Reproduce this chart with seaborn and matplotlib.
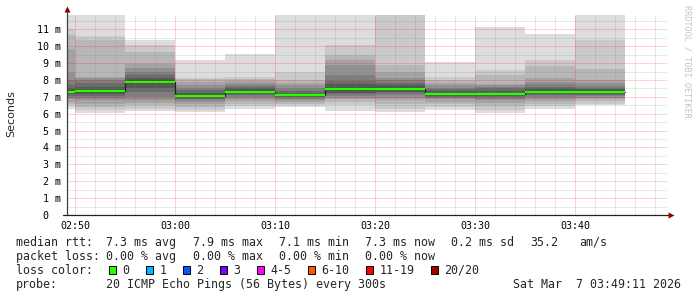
import numpy as np
import pandas as pd
import seaborn as sns
import matplotlib
matplotlib.use("Agg")
import matplotlib.pyplot as plt
from matplotlib.patches import Rectangle
from matplotlib.ticker import MultipleLocator, FixedLocator

# ---------------- data ----------------
# 5-minute intervals (end time, minutes after midnight), 20 pings each (ms, sorted)
interval_end_label = ["02:50", "02:55", "03:00", "03:05", "03:10", "03:15",
                      "03:20", "03:25", "03:30", "03:35", "03:40", "03:45"]
median_ms = [7.30, 7.35, 7.88, 7.07, 7.30, 7.10, 7.48, 7.48, 7.17, 7.17, 7.30, 7.30]

pings_0250 = [6.30, 6.45, 6.60, 6.70, 6.85, 6.95, 7.05, 7.15, 7.20, 7.28,
              7.32, 7.40, 7.50, 7.70, 8.00, 8.48, 9.86, 10.65, 11.00, 12.50]
pings_0255 = [6.05, 6.20, 6.40, 6.60, 6.80, 6.95, 7.05, 7.15, 7.25, 7.32,
              7.38, 7.45, 7.60, 7.80, 8.00, 8.10, 8.15, 10.36, 10.60, 12.50]
pings_0300 = [6.15, 6.30, 6.50, 6.65, 6.80, 7.00, 7.30, 7.55, 7.75, 7.87,
              7.93, 8.00, 8.10, 8.30, 8.50, 8.70, 8.93, 9.66, 10.06, 10.36]
pings_0305 = [6.10, 6.25, 6.40, 6.55, 6.70, 6.80, 6.88, 6.95, 7.00, 7.04,
              7.09, 7.15, 7.25, 7.40, 7.55, 7.70, 7.90, 8.05, 8.12, 9.17]
pings_0310 = [6.30, 6.45, 6.60, 6.75, 6.90, 7.00, 7.10, 7.18, 7.24, 7.28,
              7.32, 7.40, 7.50, 7.60, 7.70, 7.80, 7.93, 8.05, 8.18, 9.53]
pings_0315 = [6.41, 6.50, 6.60, 6.70, 6.80, 6.90, 6.97, 7.02, 7.06, 7.09,
              7.12, 7.18, 7.25, 7.35, 7.50, 7.70, 7.85, 7.99, 8.48, 12.50]
pings_0320 = [6.15, 6.50, 6.70, 6.85, 6.95, 7.05, 7.15, 7.25, 7.35, 7.45,
              7.50, 7.60, 7.75, 7.93, 8.30, 8.88, 9.20, 9.47, 10.06, 12.50]
pings_0325 = [6.11, 6.30, 6.60, 6.80, 6.95, 7.10, 7.20, 7.30, 7.40, 7.46,
              7.50, 7.60, 7.70, 7.85, 8.00, 8.09, 8.50, 8.88, 12.30, 12.50]
pings_0330 = [6.21, 6.40, 6.55, 6.70, 6.85, 6.95, 7.02, 7.08, 7.12, 7.15,
              7.18, 7.25, 7.35, 7.45, 7.55, 7.70, 7.85, 8.00, 8.20, 9.04]
pings_0335 = [6.02, 6.20, 6.45, 6.65, 6.80, 6.90, 7.00, 7.06, 7.11, 7.15,
              7.18, 7.25, 7.35, 7.50, 7.60, 7.70, 7.79, 8.28, 8.58, 11.15]
pings_0340 = [6.31, 6.45, 6.60, 6.75, 6.90, 7.00, 7.10, 7.18, 7.24, 7.28,
              7.32, 7.40, 7.50, 7.60, 7.75, 7.90, 8.10, 8.80, 9.21, 10.71]
pings_0345 = [6.50, 6.60, 6.75, 6.85, 6.95, 7.05, 7.12, 7.18, 7.23, 7.28,
              7.32, 7.38, 7.45, 7.55, 7.65, 7.80, 8.00, 8.68, 10.36, 12.50]

x_tick_labels = ["02:50", "03:00", "03:10", "03:20", "03:30", "03:40"]
y_tick_values = [0, 1, 2, 3, 4, 5, 6, 7, 8, 9, 10, 11]

stats_line1 = ["median rtt:", "7.3 ms avg", "7.9 ms max", "7.1 ms min",
               "7.3 ms now", "0.2 ms sd", "35.2", "am/s"]
stats_line2 = ["packet loss:", "0.00 % avg", "0.00 % max", "0.00 % min", "0.00 % now"]
loss_labels = ["0", "1", "2", "3", "4-5", "6-10", "11-19", "20/20"]
loss_colors = ["#26ff00", "#00b8ff", "#0059ff", "#7e00ff", "#ff00ff",
               "#ff5500", "#ff0000", "#a10000"]
probe_text = "20 ICMP Echo Pings (56 Bytes) every 300s"
stamp_text = "Sat Mar  7 03:49:11 2026"

# ---------------- helpers ----------------
def to_min(s):
    h, m = s.split(":")
    return int(h) * 60 + int(m)

all_pings = np.array([pings_0250, pings_0255, pings_0300, pings_0305, pings_0310,
                      pings_0315, pings_0320, pings_0325, pings_0330, pings_0335,
                      pings_0340, pings_0345])
all_pings.sort(axis=1)
ends = np.array([to_min(s) for s in interval_end_label], dtype=float)
starts = ends - 5.0

W, H, DPI = 697, 297, 100
fig = plt.figure(figsize=(W / DPI, H / DPI), dpi=DPI)
sns.set_style("white")
plt.rcParams["font.family"] = ["DejaVu Sans Mono", "DejaVu Sans"]

x0 = to_min("02:49") + 11 / 60.0
x1 = to_min("03:49") + 11 / 60.0
ax = fig.add_axes([67 / W, (H - 215) / H, 600 / W, 200 / H])
ax.set_xlim(x0, x1)
ax.set_ylim(0, 11.85)
ax.set_facecolor("white")

# smoke
edges = np.append(starts, ends[-1])
npings = all_pings.shape[1]
half = npings / 2
for k in range(int(half)):
    g = int(190 / half * (half - (k + 1))) + 50
    col = "#%02x%02x%02x" % (g, g, g)
    lo = np.append(all_pings[:, k], all_pings[-1, k])
    hi = np.append(all_pings[:, npings - 1 - k], all_pings[-1, npings - 1 - k])
    ax.fill_between(edges, lo, hi, step="post", color=col, lw=0, zorder=1)

# median: dark step line + green band
med_df = pd.DataFrame({"t": np.append(starts[0], ends),
                       "ms": np.append(median_ms[0], median_ms)})
sns.lineplot(data=med_df, x="t", y="ms", ax=ax, color="#202020", lw=0.9,
             drawstyle="steps-pre", estimator=None, sort=False, zorder=3)
ax.hlines(median_ms, starts, ends, colors=loss_colors[0], lw=1.7, zorder=4)

# grid
ax.xaxis.set_major_locator(FixedLocator([to_min(s) for s in x_tick_labels]))
ax.xaxis.set_minor_locator(MultipleLocator(2))
ax.yaxis.set_major_locator(FixedLocator(y_tick_values))
ax.yaxis.set_minor_locator(MultipleLocator(0.5))
ax.set_xticklabels(x_tick_labels)
ax.set_yticklabels([("%d m" % v) if v else "0  " for v in y_tick_values])
ax.set_axisbelow(False)
ax.grid(which="major", color="#ff0000", alpha=0.35, lw=0.72, ls=(0, (1, 1)))
ax.grid(which="minor", color="#808080", alpha=0.35, lw=0.72, ls=(0, (1, 1)))
for gl in ax.get_xgridlines() + ax.get_ygridlines():
    gl.set_zorder(2.5)

ax.tick_params(axis="both", which="major", length=2, width=0.7, color="#404040",
               labelsize=7.2, labelcolor="#000000", direction="out")
ax.tick_params(axis="x", which="major", pad=2.5)
ax.tick_params(axis="y", which="major", pad=2.3)
ax.tick_params(axis="both", which="minor", length=0)
ax.set_xlabel("")
ax.set_ylabel("")
for s in ax.spines.values():
    s.set_visible(False)

# axis lines with arrows
ax.plot([0, 0], [0, 1.03], transform=ax.transAxes, color="#404040", lw=0.9,
        clip_on=False, zorder=5)
ax.plot([-0.007, 1.004], [0, 0], transform=ax.transAxes, color="#202020", lw=0.9,
        clip_on=False, zorder=5)
ax.plot([0], [1.03], transform=ax.transAxes, marker="^", ms=4.5, color="#8b0000",
        clip_on=False, zorder=6, mec="none")
ax.plot([1.006], [0], transform=ax.transAxes, marker=">", ms=4.5, color="#8b0000",
        clip_on=False, zorder=6, mec="none")

# y label and watermark
fig.text(11 / W, 1 - 114 / H, "Seconds", rotation=90, ha="center", va="center",
         fontsize=8, family="DejaVu Sans")
fig.text(687.5 / W, 1 - 5 / H, "RRDTOOL / TOBI OETIKER", rotation=270, ha="center",
         va="top", fontsize=6.1, color="#c4c4c4")

# legend / stats text
FS = 8.4
def put(xpx, ybase, s, **kw):
    fig.text(xpx / W, 1 - ybase / H, s, ha="left", va="baseline", fontsize=FS, **kw)

l1_x = [15.5, 106.5, 193, 279, 365, 451, 530, 579]
for xp, s in zip(l1_x, stats_line1):
    put(xp, 245.7, s)
l2_x = [15.5, 106.5, 193, 279, 365]
for xp, s in zip(l2_x, stats_line2):
    put(xp, 259.7, s)
put(15.5, 273.7, "loss color:")
lab_x = [123, 160, 197, 234, 271, 322, 380, 445]
for xp, lab, col in zip(lab_x, loss_labels, loss_colors):
    bx = xp - 14.5
    fig.patches.append(Rectangle((bx / W, 1 - 273.5 / H), 7 / W, 8 / H,
                                 transform=fig.transFigure, facecolor=col,
                                 edgecolor="black", lw=0.7))
    put(xp - 0.5, 273.7, lab)
put(15.5, 287.7, "probe:")
put(106.5, 287.7, probe_text)
fig.text(681 / W, 1 - 287.7 / H, stamp_text, ha="right", va="baseline", fontsize=FS)

fig.savefig("out.png", dpi=DPI, facecolor="white")
